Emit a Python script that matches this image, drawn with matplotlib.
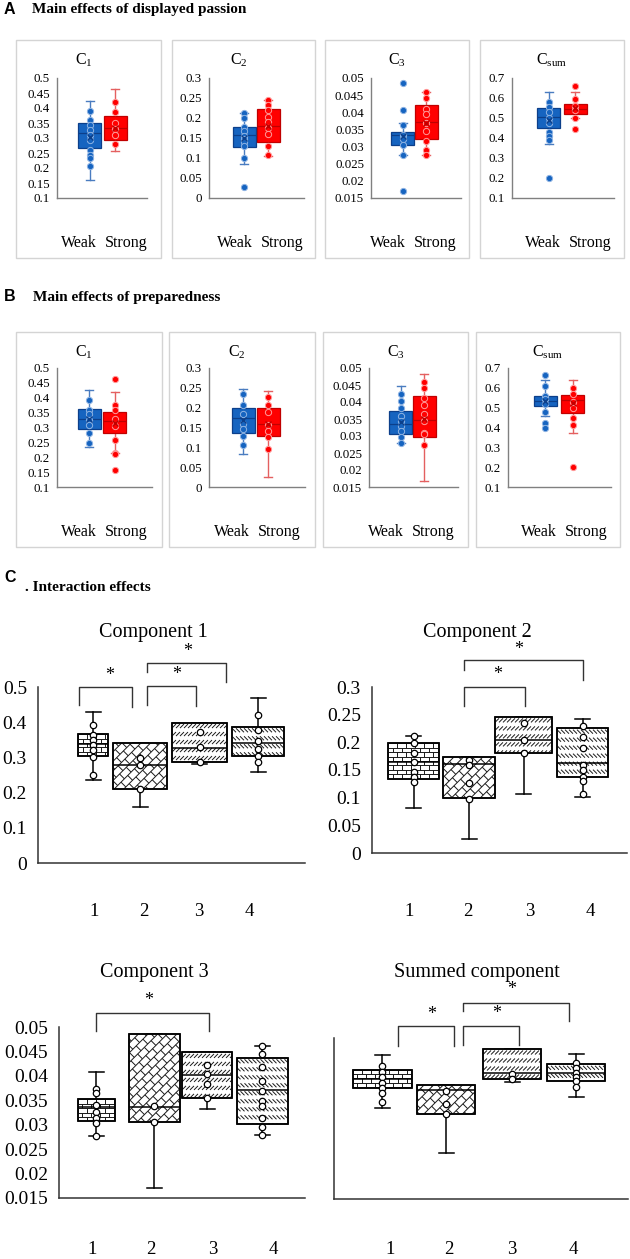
import numpy as np
import matplotlib
matplotlib.use('Agg')
import matplotlib.pyplot as plt
from matplotlib.collections import LineCollection
from matplotlib.transforms import IdentityTransform
from matplotlib.patches import Rectangle, PathPatch

plt.rcParams['font.family'] = ['Liberation Serif', 'DejaVu Serif']
plt.rcParams['mathtext.fontset'] = 'custom'
plt.rcParams['mathtext.rm'] = 'Liberation Serif'
plt.rcParams['mathtext.it'] = 'Liberation Serif:italic'

# ---------------- DATA ----------------
groups_AB = ['Weak', 'Strong']
titles_AB = [r'C$_1$', r'C$_2$', r'C$_3$', r'C$_\mathrm{sum}$']
yticks_AB = [(0.1, 0.5, 0.05), (0.0, 0.3, 0.05), (0.015, 0.05, 0.005), (0.1, 0.7, 0.1)]

# Panel A: main effects of displayed passion  [panel][weak, strong]
A_lo   = [[0.160, 0.258], [0.084, 0.105], [0.0276, 0.0276], [0.370, 0.498]]
A_q1   = [[0.268, 0.293], [0.128, 0.139], [0.0304, 0.0322], [0.448, 0.518]]
A_med  = [[0.318, 0.332], [0.157, 0.181], [0.0335, 0.0371], [0.503, 0.543]]
A_q3   = [[0.349, 0.373], [0.1765, 0.223], [0.0343, 0.0421], [0.548, 0.568]]
A_hi   = [[0.424, 0.463], [0.212, 0.246], [0.0370, 0.0460], [0.632, 0.632]]
A_mean = [[0.305, 0.335], [0.150, 0.180], [0.0332, 0.0370], [0.490, 0.550]]
A_pts = [
    [[0.39, 0.36, 0.343, 0.327, 0.31, 0.293, 0.26, 0.243, 0.233, 0.208],
     [0.419, 0.386, 0.35, 0.33, 0.31, 0.28]],
    [[0.212, 0.20, 0.178, 0.168, 0.155, 0.147, 0.14, 0.13, 0.10, 0.027],
     [0.244, 0.233, 0.219, 0.202, 0.189, 0.174, 0.16, 0.13, 0.107]],
    [[0.0485, 0.0406, 0.0363, 0.0335, 0.0322, 0.0305, 0.0276, 0.0169],
     [0.046, 0.0441, 0.0409, 0.0394, 0.037, 0.0345, 0.0315, 0.029, 0.0276]],
    [[0.578, 0.557, 0.532, 0.50, 0.475, 0.428, 0.412, 0.39, 0.198],
     [0.662, 0.593, 0.56, 0.54, 0.498, 0.443]],
]

# Panel B: main effects of preparedness
B_lo   = [[0.233, 0.214], [0.082, 0.0246], [0.0278, 0.0169], [0.459, 0.371]]
B_q1   = [[0.296, 0.282], [0.136, 0.129], [0.0307, 0.0298], [0.510, 0.473]]
B_med  = [[0.330, 0.321], [0.174, 0.158], [0.0335, 0.0348], [0.536, 0.541]]
B_q3   = [[0.362, 0.352], [0.199, 0.199], [0.0374, 0.0419], [0.561, 0.564]]
B_hi   = [[0.425, 0.418], [0.246, 0.241], [0.0447, 0.0483], [0.637, 0.637]]
B_mean = [[0.330, 0.315], [0.168, 0.160], [0.0340, 0.0350], [0.535, 0.525]]
B_pts = [
    [[0.391, 0.36, 0.345, 0.325, 0.31, 0.282, 0.248],
     [0.464, 0.377, 0.36, 0.33, 0.305, 0.259, 0.214, 0.21, 0.158]],
    [[0.235, 0.207, 0.183, 0.16, 0.145, 0.129, 0.106],
     [0.228, 0.207, 0.188, 0.157, 0.14, 0.125, 0.097]],
    [[0.0424, 0.0402, 0.0383, 0.036, 0.0345, 0.033, 0.0315, 0.0298, 0.0278],
     [0.046, 0.044, 0.0413, 0.039, 0.0365, 0.0343, 0.031, 0.0305, 0.0275]],
    [[0.663, 0.608, 0.56, 0.545, 0.52, 0.476, 0.425, 0.395],
     [0.598, 0.57, 0.53, 0.50, 0.45, 0.413, 0.20]],
]

# Panel C: interaction effects  [panel][group 1..4]
groups_C = ['1', '2', '3', '4']
titles_C = ['Component 1', 'Component 2', 'Component 3', 'Summed component']
yticks_C = [(0.0, 0.5, 0.1), (0.0, 0.3, 0.05), (0.015, 0.05, 0.005), None]
ylim_C = [(0.0, 0.5), (0.0, 0.3), (0.015, 0.05), (0.1, 0.7)]
C_lo  = [[0.236, 0.158, 0.280, 0.259], [0.0817, 0.026, 0.106, 0.1016],
         [0.0277, 0.017, 0.0333, 0.0278], [0.439, 0.270, 0.537, 0.479]]
C_q1  = [[0.305, 0.209, 0.288, 0.305], [0.133, 0.0986, 0.180, 0.138],
         [0.0308, 0.0305, 0.0354, 0.0301], [0.513, 0.416, 0.546, 0.541]]
C_med = [[0.338, 0.278, 0.328, 0.341], [0.165, 0.160, 0.204, 0.162],
         [0.0337, 0.0337, 0.0401, 0.0372], [0.547, 0.505, 0.568, 0.571]]
C_q3  = [[0.366, 0.342, 0.399, 0.387], [0.198, 0.173, 0.246, 0.2256],
         [0.0352, 0.0486, 0.0448, 0.0437], [0.582, 0.526, 0.659, 0.602]]
C_hi  = [[0.430, 0.342, 0.399, 0.468], [0.212, 0.173, 0.246, 0.242],
         [0.0407, 0.0486, 0.0448, 0.0461], [0.638, 0.526, 0.659, 0.640]]
C_pts = [
    [[0.392, 0.363, 0.349, 0.335, 0.321, 0.302, 0.25], [0.297, 0.278, 0.21],
     [0.371, 0.329, 0.288], [0.420, 0.377, 0.347, 0.323, 0.305, 0.288]],
    [[0.212, 0.198, 0.18, 0.165, 0.147, 0.138, 0.129], [0.168, 0.159, 0.127, 0.097],
     [0.235, 0.204, 0.18], [0.23, 0.21, 0.19, 0.159, 0.15, 0.138, 0.13, 0.106]],
    [[0.0373, 0.0364, 0.034, 0.0327, 0.0314, 0.0304, 0.0277], [0.0339, 0.0305],
     [0.0423, 0.0403, 0.0384, 0.0355],
     [0.0461, 0.0444, 0.0418, 0.0389, 0.0369, 0.0348, 0.0339, 0.0314, 0.0296, 0.0278]],
    [[0.597, 0.572, 0.555, 0.534, 0.513, 0.495, 0.463], [0.501, 0.455, 0.416],
     [0.565, 0.547], [0.606, 0.588, 0.571, 0.556, 0.540, 0.519]],
]
# significant pairwise comparisons (group indices) per panel
C_sig = [[(1, 2), (2, 3), (2, 4)], [(2, 3), (2, 4)], [(1, 3)], [(1, 2), (2, 3), (2, 4)]]

# ---------------- LAYOUT (pixels) ----------------
W, H = 630, 1259
fig = plt.figure(figsize=(W / 100, H / 100), dpi=100)

def add_ax(l, r, t, b):
    return fig.add_axes([l / W, 1 - b / H, (r - l) / W, (b - t) / H])

def ftext(x, y, s, **kw):
    fig.text(x / W, 1 - y / H, s, **kw)

def frame(l, r, t, b):
    fig.add_artist(Rectangle((l / W, 1 - b / H), (r - l) / W, (b - t) / H,
                             transform=fig.transFigure, fill=False,
                             ec='#d4d4d4', lw=1.0))

blue_face, blue_edge, blue_wh, blue_pt = '#1664c0', '#0c3f8a', '#4a7cc0', '#8fb4e3'
red_face, red_edge, red_wh, red_pt = '#ff0000', '#c00000', '#e46060', '#ff9a9a'
cols = [(blue_face, blue_edge, blue_wh, blue_pt), (red_face, red_edge, red_wh, red_pt)]

def tick_fmt(v):
    return f'{round(v, 4):g}'

def draw_AB(data, rows, ax_cols, borders, rel_pos, title_y, legend_y):
    lo, q1, med, q3, hi, mean, pts = data
    top, bot = rows
    for p in range(4):
        bl, br = borders[p]
        frame(bl, br, title_y - 20, legend_y + 15)
        l, r = ax_cols[p]
        ax = add_ax(l, r, top, bot)
        stats = []
        for g in range(2):
            stats.append(dict(whislo=lo[p][g], q1=q1[p][g], med=med[p][g],
                              q3=q3[p][g], whishi=hi[p][g], fliers=[]))
        bp = ax.bxp(stats, positions=rel_pos[p], widths=23, capwidths=8,
                    patch_artist=True, showfliers=False, manage_ticks=False)
        for g in range(2):
            face, edge, wh, ptc = cols[g]
            bp['boxes'][g].set(facecolor=face, edgecolor=edge, lw=0.9, zorder=2)
            bp['medians'][g].set(color=edge, lw=0.9, zorder=3)
            for k in (2 * g, 2 * g + 1):
                bp['whiskers'][k].set(color=wh, lw=1.0, zorder=1)
                bp['caps'][k].set(color=wh, lw=1.0, zorder=1)
            ax.plot([rel_pos[p][g]] * len(pts[p][g]), pts[p][g], 'o', ms=4.5,
                    mfc=face, mec=ptc, mew=0.7, zorder=4)
            ax.plot([rel_pos[p][g]], [mean[p][g]], 'x', ms=5, color=edge,
                    mew=1.0, zorder=5)
        y0, y1, st = yticks_AB[p]
        ticks = np.arange(y0, y1 + st / 2, st)
        ax.set_ylim(y0, y1)
        ax.set_xlim(0, r - l)
        ax.set_yticks(ticks)
        ax.set_yticklabels([tick_fmt(t) for t in ticks], fontsize=9.3)
        ax.set_xticks([])
        ax.tick_params(axis='y', length=0, pad=5)
        for s in ('top', 'right'):
            ax.spines[s].set_visible(False)
        for s in ('left', 'bottom'):
            ax.spines[s].set_color('#808080')
            ax.spines[s].set_linewidth(1.0)
        ax.patch.set_alpha(0)
        cx = (bl + br) / 2 - (5 if p < 2 else 0)
        ftext(cx, title_y, titles_AB[p], fontsize=11.5, ha='center', va='center')
        ftext(bl + 63, legend_y, groups_AB[0], fontsize=11.5, ha='center', va='center')
        ftext(bl + 110, legend_y, groups_AB[1], fontsize=11.5, ha='center', va='center')

# headers
ftext(4, 10, 'A', fontsize=11.5, fontweight='bold', family='Liberation Sans', va='center')
ftext(32, 9, 'Main effects of displayed passion', fontsize=11, fontweight='bold', va='center')
ftext(4, 296, 'B', fontsize=11.5, fontweight='bold', family='Liberation Sans', va='center')
ftext(33, 297, 'Main effects of preparedness', fontsize=11, fontweight='bold', va='center')
ftext(4, 578, 'C', fontsize=11.5, fontweight='bold', family='Liberation Sans', va='center')
ftext(25, 587, '. Interaction effects', fontsize=11, fontweight='bold', va='center')

draw_AB((A_lo, A_q1, A_med, A_q3, A_hi, A_mean, A_pts), (78, 198),
        [(57, 147), (209, 304), (371, 461), (512, 614)],
        [(16, 161), (172, 315), (325, 469), (480, 624)],
        [(32.5, 58), (35.5, 59.5), (31.5, 55), (36.5, 63)], 60, 243)
draw_AB((B_lo, B_q1, B_med, B_q3, B_hi, B_mean, B_pts), (368, 487),
        [(57, 152), (209, 305), (369, 458), (508, 611)],
        [(16, 162), (169, 315), (323, 468), (476, 620)],
        [(32.5, 58), (34, 59), (31.5, 55), (37, 64.5)], 352, 532)

# ---------- Panel C ----------
C_axes = [(38, 305, 687, 863), (372, 627, 687, 853), (59, 305, 1027, 1198), (334, 628, 1038, 1199)]
C_centers = [[93, 140, 199.5, 258], [413.5, 469, 523.5, 582.5], [96, 154, 207, 262], [382, 446, 512, 576]]
C_widths = [[30, 54, 55, 52], [51, 52, 57, 51], [37, 51, 50, 51], [59, 58, 58, 58]]
C_label_x = [[94, 144, 199, 249], [409, 468, 530, 590], [92, 151, 213, 273], [390, 449, 512, 573]]
C_label_y = [912, 912, 1250, 1250]
C_title_xy = [(153, 633), (477, 633), (154, 973), (477, 973)]
# bracket geometry: (x_left, x_right [axes frac], y_top, y_leg_left, y_leg_right, x_star, y_star)
C_brackets = [
    [(0.154, 0.352, 0.500, 0.448, 0.443, 0.27, 0.533),
     (0.408, 0.592, 0.502, 0.448, 0.445, 0.52, 0.535),
     (0.408, 0.704, 0.568, 0.5425, 0.514, 0.562, 0.602)],
    [(0.361, 0.600, 0.300, 0.265, 0.265, 0.494, 0.322),
     (0.361, 0.827, 0.348, 0.330, 0.312, 0.576, 0.368)],
    [(0.150, 0.610, 0.0529, 0.0491, 0.0491, 0.366, 0.0554)],
    [(0.218, 0.408, 0.7436, 0.671, 0.671, 0.333, 0.787),
     (0.439, 0.629, 0.746, 0.675, 0.675, 0.554, 0.790),
     (0.439, 0.800, 0.831, 0.800, 0.762, 0.605, 0.880)],
]
patterns = ['brick', 'diagbrick', 'dashup', 'dashdown']

S2 = np.sqrt(2.0)

def pattern_segments(kind, x0, x1, y0, y1):
    segs = []
    if kind == 'brick':
        h, w = 4.4, 9.0
        y, k = y1, 0
        while y > y0 - h:
            segs.append([(x0, y), (x1, y)])
            x = x0 + (k % 2) * w / 2
            while x < x1:
                segs.append([(x, y), (x, y - h)])
                x += w
            y -= h
            k += 1
    elif kind == 'diagbrick':
        p, q = 6.8, 9.5
        cs = [(x0, y0), (x0, y1), (x1, y0), (x1, y1)]
        aa = [(x - y) / S2 for x, y in cs]
        bb = [(x + y) / S2 for x, y in cs]
        amin, amax, bmin, bmax = min(aa), max(aa), min(bb), max(bb)
        to_xy = lambda a, b: ((a + b) / S2, (b - a) / S2)
        for k in range(int(np.floor(amin / p)) - 1, int(np.ceil(amax / p)) + 1):
            a = k * p
            segs.append([to_xy(a, bmin), to_xy(a, bmax)])
            off = (k % 2) * q / 2
            for j in range(int(np.floor((bmin - off) / q)) - 1, int(np.ceil((bmax - off) / q)) + 1):
                b = j * q + off
                segs.append([to_xy(a, b), to_xy(a + p, b)])
    else:
        period, rh, sp = 8.0, 4.0, 4.0
        y = y1 - 1.5
        while y > y0:
            x = x0 - rh
            while x < x1 + rh:
                if kind == 'dashup':
                    segs.append([(x, y - rh), (x + rh, y)])
                else:
                    segs.append([(x, y), (x + rh, y - rh)])
                x += sp
            y -= period
    return segs

for p in range(4):
    l, r, t, b = C_axes[p]
    ax = add_ax(l, r, t, b)
    ax.set_xlim(0, r - l)
    ax.set_ylim(*ylim_C[p])
    pos = [c - l for c in C_centers[p]]
    stats = [dict(whislo=C_lo[p][g], q1=C_q1[p][g], med=C_med[p][g], q3=C_q3[p][g],
                  whishi=C_hi[p][g], fliers=[]) for g in range(4)]
    bp = ax.bxp(stats, positions=pos, widths=C_widths[p], capwidths=15,
                patch_artist=True, showfliers=False, manage_ticks=False)
    ax.set_xlim(0, r - l)
    ax.set_ylim(*ylim_C[p])
    for g in range(4):
        box = bp['boxes'][g]
        box.set(facecolor='white', edgecolor='black', lw=1.1, zorder=2)
        bp['medians'][g].set(color='black', lw=1.1, zorder=4)
        for k in (2 * g, 2 * g + 1):
            bp['whiskers'][k].set(color='black', lw=1.1, zorder=1)
            bp['caps'][k].set(color='black', lw=1.1, zorder=1)
        (dx0, dy0) = ax.transData.transform((pos[g] - C_widths[p][g] / 2, C_q1[p][g]))
        (dx1, dy1) = ax.transData.transform((pos[g] + C_widths[p][g] / 2, C_q3[p][g]))
        segs = pattern_segments(patterns[g], dx0, dx1, dy0, dy1)
        lc = LineCollection(segs, colors='#1a1a1a', linewidths=0.7,
                            transform=IdentityTransform(), zorder=3)
        lc.set_clip_path(box)
        ax.add_collection(lc, autolim=False)
        outline = PathPatch(box.get_path(), transform=box.get_transform(),
                            fill=False, ec='black', lw=1.1, zorder=4)
        ax.add_patch(outline)
        ax.plot([pos[g]] * len(C_pts[p][g]), C_pts[p][g], 'o', ms=4.6, mfc='white',
                mec='black', mew=0.9, zorder=5)
    tr = ax.get_yaxis_transform()
    for (xl, xr, yt, yll, ylr, xs, ys) in C_brackets[p]:
        ax.plot([xl, xl, xr, xr], [yll, yt, yt, ylr], color='#333333', lw=1.0,
                transform=tr, clip_on=False)
        ax.text(xs, ys, '*', transform=tr, fontsize=13, ha='center', va='center')
    if yticks_C[p] is not None:
        y0, y1, st = yticks_C[p]
        ticks = np.arange(y0, y1 + st / 2, st)
        ax.set_yticks(ticks)
        ax.set_yticklabels([tick_fmt(tk) for tk in ticks], fontsize=14)
    else:
        ax.set_yticks([])
    ax.set_xticks([])
    ax.tick_params(axis='y', length=0, pad=8)
    for s in ('top', 'right'):
        ax.spines[s].set_visible(False)
    for s in ('left', 'bottom'):
        ax.spines[s].set_color('#333333')
        ax.spines[s].set_linewidth(1.1)
    ax.patch.set_alpha(0)
    tx, ty = C_title_xy[p]
    ftext(tx, ty, titles_C[p], fontsize=14.5, ha='center', va='center')
    for g in range(4):
        ftext(C_label_x[p][g], C_label_y[p], groups_C[g], fontsize=13.5, ha='center', va='center')

fig.savefig('out.png', dpi=100, facecolor='white')
